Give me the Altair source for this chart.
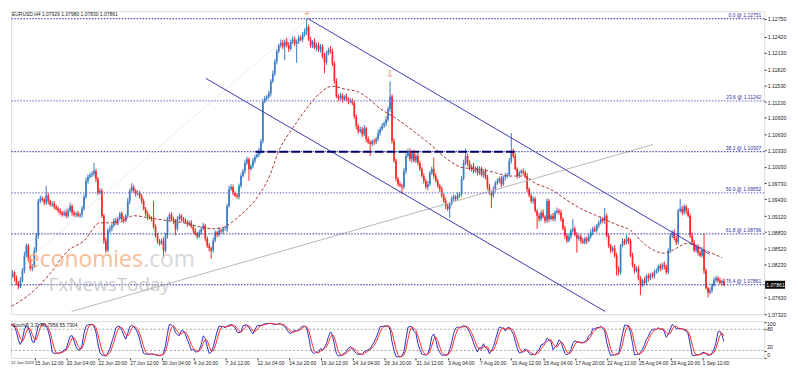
import json
import altair as alt
import pandas as pd
import numpy as np

# ---------------- data ----------------
SYMBOL_HEADER = "EURUSD,H4  1.07929 1.07980 1.07830 1.07861"
STOCH_TITLE = "Stoch(5,3,3) 40.7956 55.7304"

FIRST_OPEN = 1.0752
CLOSE = [
    1.0758, 1.0761, 1.0772, 1.0785, 1.0802, 1.0809, 1.0798, 1.0789, 1.0783, 1.0794,
    1.0812, 1.0840, 1.0858, 1.0834, 1.0816, 1.0820, 1.0849, 1.0876, 1.0940, 1.0944,
    1.0942, 1.0937, 1.0950, 1.0940, 1.0933, 1.0935, 1.0930, 1.0926, 1.0922, 1.0919,
    1.0915, 1.0919, 1.0913, 1.0922, 1.0931, 1.0919, 1.0915, 1.0917, 1.0913, 1.0915,
    1.0926, 1.0948, 1.0977, 1.0984, 1.0988, 1.0990, 1.0995, 1.0981, 1.0955, 1.0959,
    1.0913, 1.0867, 1.0849, 1.0886, 1.0889, 1.0895, 1.0904, 1.0900, 1.0907, 1.0917,
    1.0907, 1.0904, 1.0913, 1.0940, 1.0959, 1.0966, 1.0959, 1.0953, 1.0955, 1.0948,
    1.0940, 1.0926, 1.0917, 1.0911, 1.0909, 1.0907, 1.0893, 1.0876, 1.0867, 1.0862,
    1.0867, 1.0849, 1.0876, 1.0907, 1.0915, 1.0907, 1.0904, 1.0889, 1.0907, 1.0913,
    1.0907, 1.0904, 1.0902, 1.0898, 1.0900, 1.0893, 1.0886, 1.0880, 1.0875, 1.0882,
    1.0889, 1.0895, 1.0871, 1.0858, 1.0853, 1.0849, 1.0867, 1.0882, 1.0878, 1.0886,
    1.0884, 1.0889, 1.0889, 1.0931, 1.0962, 1.0966, 1.0955, 1.0950, 1.0948, 1.0968,
    1.0986, 1.0995, 1.1010, 1.1017, 1.0999, 1.1004, 1.1014, 1.1021, 1.1025, 1.1032,
    1.1050, 1.1123, 1.1129, 1.1132, 1.1138, 1.1160, 1.1174, 1.1196, 1.1215, 1.1226,
    1.1231, 1.1224, 1.1233, 1.1227, 1.1220, 1.1233, 1.1237, 1.1229, 1.1233, 1.1240,
    1.1237, 1.1246, 1.1251, 1.1260, 1.1237, 1.1226, 1.1233, 1.1222, 1.1227, 1.1218,
    1.1224, 1.1206, 1.1195, 1.1211, 1.1218, 1.1215, 1.1193, 1.1160, 1.1132, 1.1129,
    1.1134, 1.1127, 1.1132, 1.1127, 1.1123, 1.1125, 1.1120, 1.1096, 1.1078, 1.1068,
    1.1072, 1.1063, 1.1074, 1.1054, 1.1048, 1.1045, 1.1050, 1.1048, 1.1054, 1.1065,
    1.1072, 1.1078, 1.1083, 1.1090, 1.1109, 1.1132, 1.1050, 1.1014, 1.0981, 1.0971,
    1.0968, 1.0966, 1.0995, 1.1023, 1.1032, 1.1017, 1.1028, 1.1014, 1.1023, 1.1010,
    1.0999, 1.0986, 1.0977, 1.0966, 1.0971, 1.0992, 1.0999, 1.0986, 1.0977, 1.0968,
    1.0962, 1.0950, 1.0940, 1.0931, 1.0926, 1.0935, 1.0944, 1.0948, 1.0944, 1.0950,
    1.0953, 1.0981, 1.1010, 1.1023, 1.1010, 1.0999, 1.1004, 1.0995, 1.0999, 1.0992,
    1.0999, 1.0988, 1.0995, 1.0984, 1.0966, 1.0955, 1.0950, 1.0962, 1.0973, 1.0977,
    1.0981, 1.0971, 1.0984, 1.0986, 1.0988, 1.1014, 1.1032, 1.1023, 1.0999, 1.0986,
    1.0992, 1.0995, 1.0992, 1.0986, 1.0962, 1.0950, 1.0940, 1.0944, 1.0922, 1.0913,
    1.0907, 1.0919, 1.0911, 1.0904, 1.0940, 1.0907, 1.0913, 1.0907, 1.0919, 1.0922,
    1.0919, 1.0907, 1.0889, 1.0876, 1.0867, 1.0875, 1.0886, 1.0889, 1.0878, 1.0871,
    1.0875, 1.0867, 1.0864, 1.0871, 1.0867, 1.0875, 1.0882, 1.0889, 1.0886, 1.0895,
    1.0900, 1.0907, 1.0904, 1.0913, 1.0876, 1.0858, 1.0849, 1.0853, 1.0840, 1.0816,
    1.0809, 1.0858, 1.0867, 1.0864, 1.0871, 1.0867, 1.0840, 1.0822, 1.0812, 1.0816,
    1.0798, 1.0785, 1.0794, 1.0790, 1.0802, 1.0798, 1.0805, 1.0802, 1.0809, 1.0812,
    1.0820, 1.0816, 1.0823, 1.0820, 1.0809, 1.0849, 1.0876, 1.0882, 1.0871, 1.0864,
    1.0922, 1.0926, 1.0919, 1.0930, 1.0922, 1.0913, 1.0876, 1.0864, 1.0849, 1.0856,
    1.0845, 1.0840, 1.0849, 1.0812, 1.0780, 1.0772, 1.0776, 1.0785, 1.0794, 1.0798,
    1.0794, 1.0790, 1.07929, 1.07861,
]
# wick lengths in pips beyond the candle body
UPPER_WICK = [
    4, 3, 5, 3, 6, 4, 3, 5, 4, 6,   5, 7, 4, 3, 5, 4, 6, 5, 4, 6,
    5, 4, 18, 5, 3, 4, 5, 3, 4, 5,  3, 4, 6, 5, 6, 3, 4, 3, 5, 4,
    5, 4, 6, 5, 4, 5, 15, 4, 3, 5,  4, 3, 5, 4, 6, 3, 4, 5, 4, 3,
    4, 5, 3, 6, 4, 7, 4, 3, 5, 4,   5, 4, 3, 5, 4, 3, 33, 4, 5, 3,
    4, 6, 5, 4, 3, 5, 4, 3, 5, 4,   3, 4, 5, 3, 4, 5, 3, 4, 3, 5,
    4, 5, 3, 4, 5, 3, 6, 4, 3, 5,   4, 3, 5, 4, 6, 5, 4, 3, 5, 4,
    5, 4, 6, 5, 3, 4, 5, 4, 3, 6,   4, 5, 4, 3, 5, 4, 6, 5, 4, 3,
    6, 5, 4, 7, 5, 4, 6, 5, 4, 5,   4, 5, 6, 15, 4, 5, 3, 6, 4, 5,
    5, 4, 6, 5, 4, 7, 5, 4, 6, 4,   5, 4, 3, 6, 4, 5, 4, 5, 3, 4,
    5, 4, 6, 3, 5, 4, 3, 5, 4, 6,   4, 5, 3, 6, 5, 28, 4, 5, 4, 3,
    5, 4, 6, 5, 4, 5, 3, 6, 4, 5,   4, 3, 5, 4, 6, 3, 4, 21, 5, 4,
    3, 5, 4, 6, 4, 3, 5, 4, 3, 6,   4, 5, 6, 14, 4, 5, 3, 6, 4, 5,
    5, 4, 3, 5, 4, 6, 3, 5, 4, 5,   4, 5, 3, 6, 4, 5, 33, 4, 5, 3,
    4, 3, 5, 4, 6, 3, 4, 5, 4, 3,   5, 4, 6, 3, 5, 4, 3, 5, 4, 6,
    4, 5, 3, 6, 4, 5, 3, 18, 4, 5,  3, 4, 5, 3, 4, 5, 6, 4, 5, 3,
    4, 5, 3, 14, 4, 5, 3, 4, 6, 5,  4, 3, 5, 4, 6, 3, 4, 5, 3, 4,
    5, 4, 3, 6, 4, 5, 3, 4, 5, 4,   3, 5, 4, 6, 3, 4, 5, 4, 6, 5,
    4, 18, 5, 4, 3, 5, 4, 6, 5, 4,  5, 4, 6, 31, 4, 3, 5, 4, 6, 5,
    4, 5, 3, 5,
]
LOWER_WICK = [
    18, 4, 3, 5, 4, 3, 6, 4, 5, 3,  4, 5, 3, 6, 4, 5, 3, 4, 5, 4,
    3, 5, 4, 6, 3, 4, 5, 3, 4, 5,   4, 3, 5, 4, 3, 6, 4, 5, 3, 4,
    5, 3, 4, 5, 3, 4, 5, 6, 4, 3,   4, 6, 5, 3, 4, 5, 3, 4, 5, 3,
    4, 5, 3, 4, 6, 3, 4, 5, 3, 4,   5, 3, 4, 6, 3, 5, 4, 3, 5, 4,
    3, 13, 4, 5, 3, 4, 6, 12, 4, 3, 5, 4, 3, 5, 4, 3, 6, 4, 5, 3,
    4, 3, 5, 4, 6, 15, 4, 3, 5, 4,  3, 5, 4, 6, 3, 4, 5, 3, 4, 5,
    4, 3, 5, 4, 22, 3, 4, 5, 3, 4,  5, 4, 3, 5, 4, 6, 3, 4, 5, 3,
    4, 5, 25, 4, 6, 3, 5, 4, 35, 4, 3, 5, 4, 6, 3, 4, 5, 3, 6, 4,
    5, 4, 20, 5, 3, 4, 5, 4, 3, 5,  4, 6, 3, 4, 5, 3, 4, 5, 6, 4,
    3, 5, 4, 6, 3, 22, 4, 5, 3, 4,  5, 3, 4, 6, 4, 5, 4, 3, 5, 4,
    3, 13, 4, 5, 3, 4, 6, 3, 4, 5,  4, 3, 5, 4, 6, 3, 4, 5, 3, 4,
    5, 4, 3, 6, 4, 17, 3, 5, 4, 3,  4, 5, 3, 4, 6, 3, 5, 4, 3, 5,
    4, 3, 5, 4, 6, 3, 23, 4, 5, 3,  4, 5, 3, 6, 4, 3, 5, 4, 3, 5,
    4, 3, 5, 4, 6, 3, 4, 5, 3, 24,  5, 4, 3, 5, 4, 6, 3, 4, 5, 3,
    4, 5, 3, 6, 4, 3, 5, 4, 3, 26,  4, 5, 3, 4, 6, 3, 4, 5, 3, 4,
    5, 3, 4, 6, 3, 4, 5, 3, 4, 13,  6, 4, 3, 5, 4, 6, 3, 4, 5, 3,
    4, 18, 3, 5, 4, 6, 3, 4, 5, 3,  4, 5, 3, 6, 4, 3, 5, 4, 3, 5,
    4, 3, 5, 4, 6, 3, 4, 5, 3, 4,   5, 3, 4, 6, 3, 9, 4, 5, 3, 4,
    4, 3, 5, 3,
]
PIP = 0.0001

# moving average read at sample bars
MA_BAR = [0, 8, 16, 24, 33, 41, 49, 58, 66, 74, 83, 91, 99, 106, 112, 118, 128, 134,
          139, 146, 153, 159, 166, 173, 178, 184, 190, 198, 207, 215, 223, 232, 240,
          248, 255, 262, 268, 277, 283, 291, 299, 308, 316, 324, 333, 339, 344, 349,
          354, 362]
MA_PRICE = [1.0739, 1.0754, 1.0776, 1.0807, 1.0849, 1.0867, 1.0900, 1.0900, 1.0913,
            1.0909, 1.0904, 1.0900, 1.0893, 1.0889, 1.0893, 1.0909, 1.0946, 1.0983,
            1.1032, 1.1074, 1.1110, 1.1136, 1.1151, 1.1145, 1.1142, 1.1129, 1.1110,
            1.1092, 1.1068, 1.1045, 1.1019, 1.1001, 1.0999, 1.0992, 1.0986, 1.0986,
            1.0973, 1.0959, 1.0944, 1.0926, 1.0913, 1.0898, 1.0886, 1.0858, 1.0844,
            1.0853, 1.0862, 1.0858, 1.0849, 1.0836]

FIB_NAME = ["0.0", "23.6", "38.2", "50.0", "61.8", "76.4"]
FIB_PRICE = [1.12751, 1.11242, 1.10307, 1.09552, 1.08796, 1.07861]
FIB_SHADE = ["dark", "light", "dark", "light", "dark", "dark"]

# 1.07920 sits under the current-price box, so it is left out
PRICE_TICKS = [1.1275, 1.1242, 1.1213, 1.1182, 1.1153, 1.1122, 1.1093, 1.1063, 1.1033,
               1.1003, 1.0973, 1.0943, 1.0912, 1.0883, 1.0852, 1.0823, 1.0763, 1.0732]
LAST_PRICE = 1.07861

X_LABELS = ["12 Jun 2023", "15 Jun 12:00", "20 Jun 04:00", "22 Jun 20:00", "27 Jun 12:00",
            "30 Jun 04:00", "4 Jul 20:00", "7 Jul 12:00", "12 Jul 04:00", "14 Jul 20:00",
            "19 Jul 12:00", "24 Jul 04:00", "26 Jul 20:00", "31 Jul 12:00", "3 Aug 04:00",
            "7 Aug 20:00", "10 Aug 12:00", "15 Aug 04:00", "17 Aug 20:00", "22 Aug 12:00",
            "25 Aug 04:00", "29 Aug 20:00", "1 Sep 12:00"]
X_LABEL_STEP = 16

# drawn objects (anchor bar index, price)
CHANNEL_UPPER = ([153.75, 355.75], [1.12751, 1.08424])
CHANNEL_LOWER = ([102.25, 303.25], [1.11656, 1.07370])
GRAY_LINE = ([34.75, 327.25], [1.07370, 1.10439])
FIB_TREND = ([-50.0, 153.75], [1.06351, 1.12751])
NECKLINE = ([127.25, 258.25], [1.10307, 1.10307])
FRACTAL_BARS = [153, 195]
STOCH_LEVELS = [20, 80]
STOCH_TICKS = [0, 20, 80, 100]
STOCH_TICK_BASELINE = ["bottom", "bottom", "middle", "top"]

# ---------------- styling ----------------
FONT = "Liberation Sans"
BLUE = "#3b7cc4"
RED = "#ff2626"
K_COLOR = "#3030c0"
D_COLOR = "#ff3030"
W = 758
H_MAIN = 305
H_STO = 37

# ---------------- build table ----------------
n = min(len(CLOSE), len(UPPER_WICK), len(LOWER_WICK))
close = np.array(CLOSE[:n])
open_ = np.concatenate([[FIRST_OPEN], close[:-1]])
high = np.maximum(open_, close) + np.array(UPPER_WICK[:n]) * PIP
low = np.minimum(open_, close) - np.array(LOWER_WICK[:n]) * PIP

sc, sh, sl = pd.Series(close), pd.Series(high), pd.Series(low)
hh = sh.rolling(5, min_periods=1).max()
ll = sl.rolling(5, min_periods=1).min()
k = 100 * (sc - ll).rolling(3, min_periods=1).sum() / (hh - ll).rolling(3, min_periods=1).sum()
d = k.rolling(3, min_periods=1).mean()

df = pd.DataFrame({
    "i": np.arange(n), "open": open_, "high": high, "low": low, "close": close,
    "dir": np.where(close >= open_, "up", "down"), "k": k.values, "d": d.values,
})

X_LEFT = 4.25
xs = alt.Scale(domain=[X_LEFT, X_LEFT + W / 2.0], nice=False, zero=False)
ys = alt.Scale(domain=[1.0732, 1.12891], nice=False, zero=False)
sys_ = alt.Scale(domain=[-1, 103], nice=False, zero=False)
cscale = alt.Scale(domain=["up", "down"], range=[BLUE, RED])

AX_PRICE = alt.Axis(orient="right", values=PRICE_TICKS, format=".5f", labelOverlap=False,
                    tickSize=2, labelPadding=1, labelFontSize=5.2, labelFont=FONT,
                    labelColor="#222222", tickColor="#333333", domain=False, grid=False,
                    title=None)


def PY(field):
    return alt.Y(field, scale=ys, axis=AX_PRICE)


X = alt.X("i:Q", scale=xs, axis=None)
wicks = alt.Chart(df).mark_rule(strokeWidth=1, clip=True).encode(
    x=X, y=PY("low:Q"), y2="high:Q",
    color=alt.Color("dir:N", scale=cscale, legend=None))
bodies = alt.Chart(df).mark_rule(strokeWidth=1.7, clip=True).encode(
    x=X, y=PY("open:Q"), y2="close:Q",
    color=alt.Color("dir:N", scale=cscale, legend=None))


def seg(name, pair):
    return pd.DataFrame({"name": name, "bar": pair[0], "price": pair[1]})


def line_layer(data, **kw):
    return alt.Chart(data).mark_line(clip=True, **kw).encode(
        x=alt.X("bar:Q", scale=xs, axis=None), y=PY("price:Q"), detail="name:N")


gray = line_layer(seg("gray", GRAY_LINE), color="#b8b8b8", strokeWidth=1)
ftrend = line_layer(seg("ft", FIB_TREND), color="#c8c8c8", strokeWidth=1, strokeDash=[1, 2])
chan = line_layer(pd.concat([seg("u", CHANNEL_UPPER), seg("l", CHANNEL_LOWER)]),
                  color="#3a3ab4", strokeWidth=1)
neck = line_layer(seg("neck", NECKLINE), color="#00006a", strokeWidth=2, strokeDash=[9, 3])
ma = alt.Chart(pd.DataFrame({"bar": MA_BAR, "price": MA_PRICE})).mark_line(
    clip=True, color="#a83232", strokeWidth=1, strokeDash=[3, 2], interpolate="monotone"
).encode(x=alt.X("bar:Q", scale=xs, axis=None), y=PY("price:Q"))

fib = pd.DataFrame({"name": FIB_NAME, "price": FIB_PRICE, "shade": FIB_SHADE})
fib["label"] = [f"{a} @ {b:.5f}" for a, b in zip(FIB_NAME, FIB_PRICE)]
fib_dark = alt.Chart(fib[fib.shade == "dark"]).mark_rule(
    color="#2a2aa8", strokeWidth=1, strokeDash=[1.5, 1.5]).encode(y=PY("price:Q"))
fib_light = alt.Chart(fib[fib.shade == "light"]).mark_rule(
    color="#8080d0", strokeWidth=1.3, strokeDash=[1.5, 1.5]).encode(y=PY("price:Q"))
fib_text = alt.Chart(fib).mark_text(
    align="right", baseline="bottom", dy=-1, fontSize=5, font=FONT, color="#3030a0"
).encode(y=PY("price:Q"), x=alt.value(W - 3), text="label:N")

frac = df[df.i.isin(FRACTAL_BARS)]
fractals = alt.Chart(frac).mark_text(
    text="⇩", fontSize=9, color="#f07a6a", baseline="bottom", dy=-2, clip=True
).encode(x=X, y=PY("high:Q"))

header = alt.Chart(pd.DataFrame({"t": [SYMBOL_HEADER]})).mark_text(
    align="left", baseline="top", fontSize=5, font=FONT, color="#222222"
).encode(text="t:N", x=alt.value(1), y=alt.value(1))

wm1 = alt.Chart(pd.DataFrame({"t": ["economies"]})).mark_text(
    align="left", baseline="alphabetic", fontSize=23, font="Open Sans", color="#f6a874",
    opacity=0.75).encode(text="t:N", x=alt.value(16), y=alt.value(258))
wm2 = alt.Chart(pd.DataFrame({"t": [".com"]})).mark_text(
    align="left", baseline="alphabetic", fontSize=23, font="Open Sans", color="#cfcfcf",
    opacity=0.8).encode(text="t:N", x=alt.value(133), y=alt.value(258))
wm3 = alt.Chart(pd.DataFrame({"t": ["FxNewsToday"]})).mark_text(
    align="left", baseline="alphabetic", fontSize=19, font="Open Sans", color="#bdbdbd",
    opacity=0.75).encode(text="t:N", x=alt.value(38), y=alt.value(282))

last = pd.DataFrame({"p": [LAST_PRICE], "t": [f"{LAST_PRICE:.5f}"]})
price_box = alt.Chart(last).mark_rule(color="black", strokeWidth=8, clip=False).encode(
    y=PY("p:Q"), x=alt.value(W + 1), x2=alt.value(W + 21))
price_txt = alt.Chart(last).mark_text(
    align="left", baseline="middle", fontSize=5.2, font=FONT, color="white"
).encode(y=PY("p:Q"), x=alt.value(W + 2), text="t:N")

main = alt.layer(
    wicks, bodies, gray, ftrend, fib_dark, fib_light, chan, ma, neck, fib_text,
    fractals, header, wm1, wm2, wm3, price_box, price_txt
).properties(width=W, height=H_MAIN)

# ---------------- stochastic panel ----------------
AX_X = alt.Axis(values=list(range(X_LABEL_STEP, 353, X_LABEL_STEP)),
                labelExpr=f"{json.dumps(X_LABELS)}[round(datum.value / {X_LABEL_STEP})]",
                labelAlign="left", labelFontSize=5, labelFont=FONT, labelPadding=1,
                tickSize=2, labelOverlap=False, domain=False, grid=False, title=None,
                labelColor="#222222", tickColor="#333333")
AX_STO = alt.Axis(orient="right", values=STOCH_TICKS, labels=False, tickSize=2,
                  tickColor="#333333", domain=False, grid=False, title=None)


def SY(field):
    return alt.Y(field, scale=sys_, axis=AX_STO)


SX = alt.X("i:Q", scale=xs, axis=AX_X)
k_line = alt.Chart(df).mark_line(color=K_COLOR, strokeWidth=1, clip=True).encode(
    x=SX, y=SY("k:Q"))
d_line = alt.Chart(df).mark_line(color=D_COLOR, strokeWidth=1, clip=True).encode(
    x=SX, y=SY("d:Q"))
levels = alt.Chart(pd.DataFrame({"v": STOCH_LEVELS})).mark_rule(
    color="#a8a8a8", strokeWidth=1, strokeDash=[2, 2]).encode(y=SY("v:Q"))
sto_title = alt.Chart(pd.DataFrame({"t": [STOCH_TITLE]})).mark_text(
    align="left", baseline="top", fontSize=5, font=FONT, color="#222222"
).encode(text="t:N", x=alt.value(1), y=alt.value(2))
first_lbl = alt.Chart(pd.DataFrame({"t": [X_LABELS[0]]})).mark_text(
    align="left", baseline="top", fontSize=4.2, font=FONT, color="#222222"
).encode(text="t:N", x=alt.value(0), y=alt.value(H_STO + 3))

sto_lbl_df = pd.DataFrame({"v": STOCH_TICKS, "b": STOCH_TICK_BASELINE})
sto_lbl_df["t"] = sto_lbl_df["v"].astype(str)
sto_labels = [
    alt.Chart(sto_lbl_df[sto_lbl_df.b == base]).mark_text(
        align="left", baseline=base, fontSize=5.2, font=FONT, color="#222222"
    ).encode(y=SY("v:Q"), x=alt.value(W + 3), text="t:N")
    for base in ["top", "middle", "bottom"]
]

sto = alt.layer(levels, k_line, d_line, sto_title, first_lbl, *sto_labels).properties(
    width=W, height=H_STO)

chart = alt.vconcat(main, sto, spacing=2).properties(
    padding={"left": 1, "top": 1, "right": 0, "bottom": 0}
).configure_view(stroke="#666666", strokeWidth=1).configure(font=FONT)

chart.save("out.html", embed_options={"renderer": "svg", "actions": False})
